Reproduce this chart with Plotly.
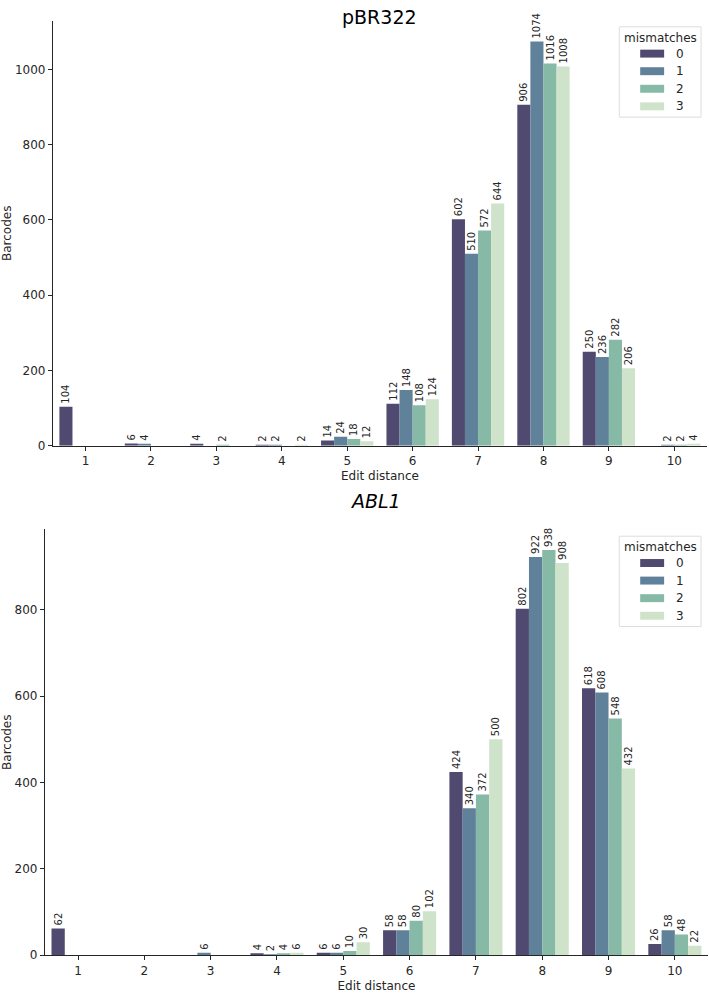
import plotly.graph_objects as go

# ---------------- data ----------------
edit_distance = ["1", "2", "3", "4", "5", "6", "7", "8", "9", "10"]
mismatch_levels = ["0", "1", "2", "3"]

pbr_mm0 = [104, 6, 4, 2, 14, 112, 602, 906, 250, 0]
pbr_mm1 = [0, 4, 0, 2, 24, 148, 510, 1074, 236, 2]
pbr_mm2 = [0, 0, 2, 0, 18, 108, 572, 1016, 282, 2]
pbr_mm3 = [0, 0, 0, 2, 12, 124, 644, 1008, 206, 4]

abl_mm0 = [62, 0, 0, 4, 6, 58, 424, 802, 618, 26]
abl_mm1 = [0, 0, 6, 2, 6, 58, 340, 922, 608, 58]
abl_mm2 = [0, 0, 0, 4, 10, 80, 372, 938, 548, 48]
abl_mm3 = [0, 0, 0, 6, 30, 102, 500, 908, 432, 22]

pbr_ticks = [0, 200, 400, 600, 800, 1000]
abl_ticks = [0, 200, 400, 600, 800]

# ---------------- style ----------------
colors = ["#514a70", "#60819a", "#87b9a7", "#cfe2ca"]
ink = "#262626"
FONT = "DejaVu Sans"
W, H = 709, 994


def px_x(x):
    return x / W


def px_y(y):
    return 1 - y / H


fig = go.Figure()

panels = [
    ([pbr_mm0, pbr_mm1, pbr_mm2, pbr_mm3], "x", "y"),
    ([abl_mm0, abl_mm1, abl_mm2, abl_mm3], "x2", "y2"),
]

for series, xa, ya in panels:
    for lvl, vals, col in zip(mismatch_levels, series, colors):
        fig.add_trace(go.Bar(
            x=edit_distance, y=vals, name=lvl,
            marker=dict(color=col, line=dict(width=0)),
            text=[str(v) if v > 0 else "" for v in vals],
            textposition="outside", textangle=-90,
            textfont=dict(family=FONT, size=10, color=ink),
            cliponaxis=False, constraintext="none",
            showlegend=False, xaxis=xa, yaxis=ya,
            hoverinfo="x+y+name",
        ))

axis_common = dict(
    showline=True, linecolor=ink, linewidth=1,
    ticks="outside", ticklen=4, tickcolor=ink, tickwidth=1,
    showgrid=False, zeroline=False,
    tickfont=dict(family=FONT, size=12, color=ink),
)

fig.update_layout(
    width=W, height=H,
    margin=dict(l=0, r=0, t=0, b=0),
    paper_bgcolor="white", plot_bgcolor="white",
    barmode="group", bargap=0.2, bargroupgap=0,
    font=dict(family=FONT, color=ink),
    xaxis=dict(axis_common, type="category", range=[-0.5, 9.5],
               domain=[px_x(51), px_x(707)], anchor="y",
               title=dict(text="Edit distance", standoff=4,
                          font=dict(family=FONT, size=12, color=ink))),
    yaxis=dict(axis_common, range=[0, 1129], tickvals=pbr_ticks,
               domain=[px_y(449), px_y(21)], anchor="x",
               title=dict(text="Barcodes", standoff=6,
                          font=dict(family=FONT, size=12, color=ink))),
    xaxis2=dict(axis_common, type="category", range=[-0.5, 9.5],
                domain=[px_x(43), px_x(708)], anchor="y2",
                title=dict(text="Edit distance", standoff=4,
                           font=dict(family=FONT, size=12, color=ink))),
    yaxis2=dict(axis_common, range=[0, 986], tickvals=abl_ticks,
                domain=[px_y(962), px_y(533)], anchor="x2",
                title=dict(text="Barcodes", standoff=6,
                           font=dict(family=FONT, size=12, color=ink))),
)

annotations = [
    dict(text="pBR322", x=px_x(379), y=px_y(17), xref="paper", yref="paper",
         showarrow=False, xanchor="center", yanchor="middle",
         font=dict(family=FONT, size=19, color="black")),
    dict(text="<i>ABL1</i>", x=px_x(375), y=px_y(505), xref="paper", yref="paper",
         showarrow=False, xanchor="center", yanchor="middle",
         font=dict(family=FONT, size=19, color="black")),
]
shapes = []

# manual legends (matplotlib style)
for top in (27, 540):
    shapes.append(dict(type="rect", xref="paper", yref="paper",
                       x0=px_x(619), x1=px_x(701), y0=px_y(top + 91), y1=px_y(top),
                       line=dict(color="#dddddd", width=1), fillcolor="rgba(255,255,255,0.8)",
                       layer="above"))
    annotations.append(dict(text="mismatches", x=px_x(660), y=px_y(top + 11),
                            xref="paper", yref="paper", showarrow=False,
                            xanchor="center", yanchor="middle",
                            font=dict(family=FONT, size=12, color=ink)))
    for i, (lvl, col) in enumerate(zip(mismatch_levels, colors)):
        cy = top + 27 + i * 17.7
        shapes.append(dict(type="rect", xref="paper", yref="paper",
                           x0=px_x(640), x1=px_x(664), y0=px_y(cy + 4), y1=px_y(cy - 4),
                           line=dict(width=0), fillcolor=col, layer="above"))
        annotations.append(dict(text=lvl, x=px_x(674), y=px_y(cy),
                                xref="paper", yref="paper", showarrow=False,
                                xanchor="left", yanchor="middle",
                                font=dict(family=FONT, size=12, color=ink)))

fig.update_layout(annotations=annotations, shapes=shapes)

fig.write_html(
    "out.html",
    config={"displayModeBar": False},
    post_script="document.body.style.margin='0';document.body.style.overflow='hidden';",
)
